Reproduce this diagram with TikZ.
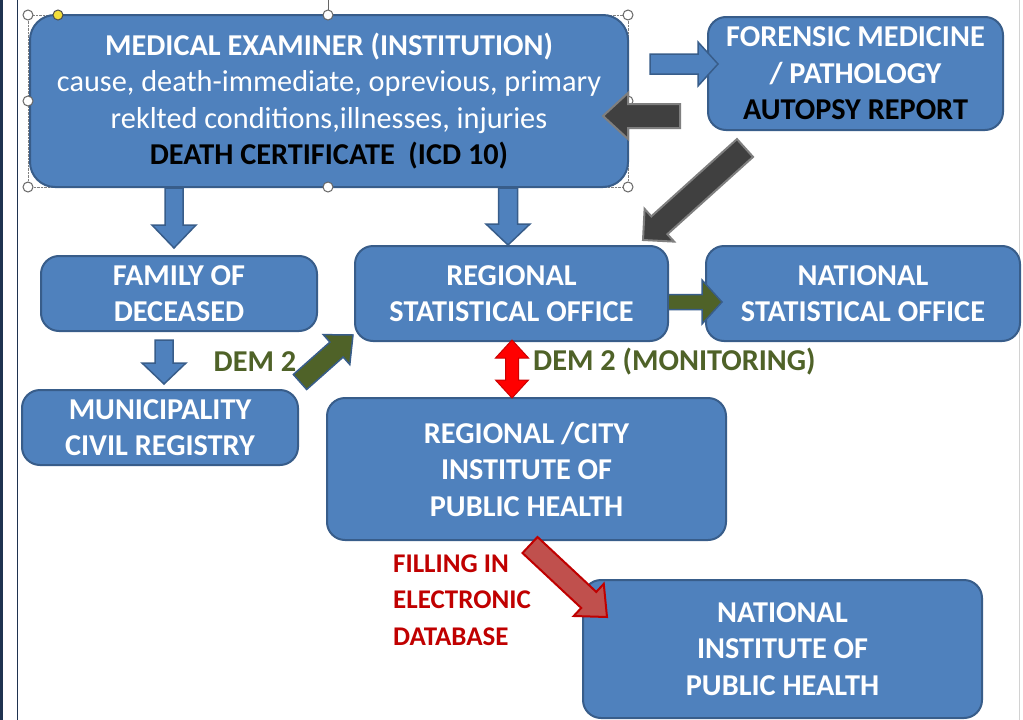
\documentclass[tikz,border=0pt]{standalone}
\usepackage{fontspec}
\setmainfont{Carlito}
\usepackage{tikz}
\usetikzlibrary{calc}
\usetikzlibrary{positioning}

\definecolor{boxblue}{HTML}{4F81BD}
\definecolor{boxline}{HTML}{385D8A}
\definecolor{arrgray}{HTML}{404040}
\definecolor{arredge}{HTML}{7F7F7F}
\definecolor{demgreen}{HTML}{4F6228}
\definecolor{filred}{HTML}{C00000}
\definecolor{arrred}{HTML}{C0504D}
\definecolor{handyellow}{HTML}{F2DE3A}
\definecolor{frameline}{HTML}{1F3350}

% block arrow: [style]{from}{to}{half body}{half head}{head length}
\newcommand{\blockarrow}[6][]{%
  \draw[#1] ($(#2)!#4!90:(#3)$) -- ($(#3)!#6!(#2)!#4!-90:(#2)$)
    -- ($(#3)!#6!(#2)!#5!-90:(#2)$) -- (#3)
    -- ($(#3)!#6!(#2)!#5!90:(#2)$) -- ($(#3)!#6!(#2)!#4!90:(#2)$)
    -- ($(#2)!#4!-90:(#3)$) -- cycle;}
% double block arrow, same arguments
\newcommand{\twoarrow}[6][]{%
  \draw[#1] (#2) -- ($(#2)!#6!(#3)!#5!90:(#3)$) -- ($(#2)!#6!(#3)!#4!90:(#3)$)
    -- ($(#3)!#6!(#2)!#4!-90:(#2)$) -- ($(#3)!#6!(#2)!#5!-90:(#2)$) -- (#3)
    -- ($(#3)!#6!(#2)!#5!90:(#2)$) -- ($(#3)!#6!(#2)!#4!90:(#2)$)
    -- ($(#2)!#6!(#3)!#4!-90:(#3)$) -- ($(#2)!#6!(#3)!#5!-90:(#3)$) -- cycle;}

\tikzset{
  box/.style={draw=boxline, fill=boxblue, line width=2pt, rounded corners=18pt,
    text=white, align=center, inner sep=0pt,
    font=\fontsize{30.3}{36.5}\selectfont\bfseries},
  handle/.style={circle, draw=gray!80!black, fill=white, line width=1pt,
    minimum size=10pt, inner sep=0pt},
  bluearr/.style={draw=boxline, fill=boxblue, line width=1.5pt},
  grayarr/.style={draw=arredge, fill=arrgray, line width=2pt},
  greenarr/.style={draw=boxline, fill=demgreen, line width=1.5pt},
  redarr/.style={draw=red!80!black, fill=red, line width=1pt},
  fillarr/.style={draw=filred, fill=arrred, line width=2pt},
  demtext/.style={text=demgreen, font=\fontsize{30.3}{36.5}\selectfont\bfseries, inner sep=0pt},
}

\begin{document}
\begin{tikzpicture}[x=1pt, y=-1pt]
      \useasboundingbox (0,0) rectangle (1023,720);
      \fill[white] (0,0) rectangle (1023,720);
      \draw[line width=3pt, frameline] (1.5,0) -- (1.5,720);
      \draw[line width=1.5pt, frameline] (17.5,0) -- (17.5,720);
      \draw[line width=1pt, gray!35] (1019.5,0) -- (1019.5,720);

      % selection frame
      \draw[densely dotted, gray] (28,15) rectangle (628,187);
      \draw[gray!80!black] (328,0) -- (328,15);

      \node[box, minimum width=598pt, minimum height=172pt, rounded corners=25pt] (me) at (329,101)
        {MEDICAL EXAMINER (INSTITUTION)\\
         {\mdseries cause, death-immediate, oprevious, primary}\\
         {\mdseries reklted conditions,illnesses, injuries}\\
         \textcolor{black}{DEATH CERTIFICATE~~(ICD 10)}};
      \node[box, minimum width=295pt, minimum height=113pt] (fm) at (855.5,73.5)
        {FORENSIC MEDICINE\\ / PATHOLOGY\\ \textcolor{black}{AUTOPSY REPORT}};
      \node[box, minimum width=276pt, minimum height=75pt] (fam) at (179,293.5) {FAMILY OF\\ DECEASED};
      \node[box, minimum width=313pt, minimum height=95pt] (rso) at (511.5,293.5) {REGIONAL\\ STATISTICAL OFFICE};
      \node[box, minimum width=314pt, minimum height=95pt] (nso) at (863,293.5) {NATIONAL\\ STATISTICAL OFFICE};
      \node[box, minimum width=276pt, minimum height=75pt] (mun) at (160,427.5) {MUNICIPALITY\\ CIVIL REGISTRY};
      \node[box, minimum width=399pt, minimum height=142pt] (rip) at (526.5,469) {REGIONAL /CITY\\ INSTITUTE OF\\ PUBLIC HEALTH};
      \node[box, minimum width=399pt, minimum height=138pt] (nip) at (782.5,649) {NATIONAL\\ INSTITUTE OF\\ PUBLIC HEALTH};

      % handles
      \foreach \hx/\hy [count=\i] in {28/15,328/15,628/15,28/101,628/101,28/187,328/187,628/187}
        \node[handle] (h\i) at (\hx,\hy) {};
      \node[handle, fill=handyellow, draw=gray!60!black] (hrot) at (58,15) {};

      % arrow ends
      \coordinate (me-fam) at (174,188);
      \coordinate (fam-in) at (174,248);
      \coordinate (me-rso) at (508,188);
      \coordinate (rso-in) at (508,245);
      \coordinate (fam-mun) at (164,340);
      \coordinate (mun-in) at (164,384);
      \coordinate (me-fm) at (650,64);
      \coordinate (fm-in) at (718,64);
      \coordinate (fm-me) at (680,116);
      \coordinate (me-in) at (603,116);
      \coordinate (fm-rso) at (745,148);
      \coordinate (rso-top) at (643,240);
      \coordinate (mun-rso) at (300,382);
      \coordinate (rso-left) at (353,335);
      \coordinate (rso-nso) at (668,302);
      \coordinate (nso-in) at (722,302);
      \coordinate (rso-bot) at (512,340);
      \coordinate (rip-top) at (512,398);
      \coordinate (rip-nip) at (530,545);
      \coordinate (nip-in) at (607,617);

      \blockarrow[bluearr]{me-fam}{fam-in}{9pt}{22pt}{23pt}
      \blockarrow[bluearr]{me-rso}{rso-in}{9.5pt}{22pt}{21pt}
      \blockarrow[bluearr]{fam-mun}{mun-in}{9pt}{22pt}{21pt}
      \blockarrow[bluearr]{me-fm}{fm-in}{10pt}{22pt}{20pt}
      \blockarrow[grayarr]{fm-me}{me-in}{12pt}{23pt}{25pt}
      \blockarrow[grayarr]{fm-rso}{rso-top}{12pt}{22pt}{22pt}
      \blockarrow[greenarr]{mun-rso}{rso-left}{10pt}{20pt}{22pt}
      \blockarrow[greenarr]{rso-nso}{nso-in}{7.5pt}{22pt}{20pt}
      \twoarrow[redarr]{rso-bot}{rip-top}{6.5pt}{16.5pt}{18pt}
      \blockarrow[fillarr]{rip-nip}{nip-in}{11pt}{22pt}{25pt}

      \node[demtext] (dem1) at (255,362) {DEM 2};
      \node[demtext, anchor=west] (dem2) at (533,362) {DEM 2 (MONITORING)};
      \node[text=filred, align=left, anchor=west, inner sep=0pt,
        font=\fontsize{27}{36.5}\selectfont\bfseries] (fill) at (393,600)
        {FILLING IN\\ ELECTRONIC\\ DATABASE};
\end{tikzpicture}
\end{document}
